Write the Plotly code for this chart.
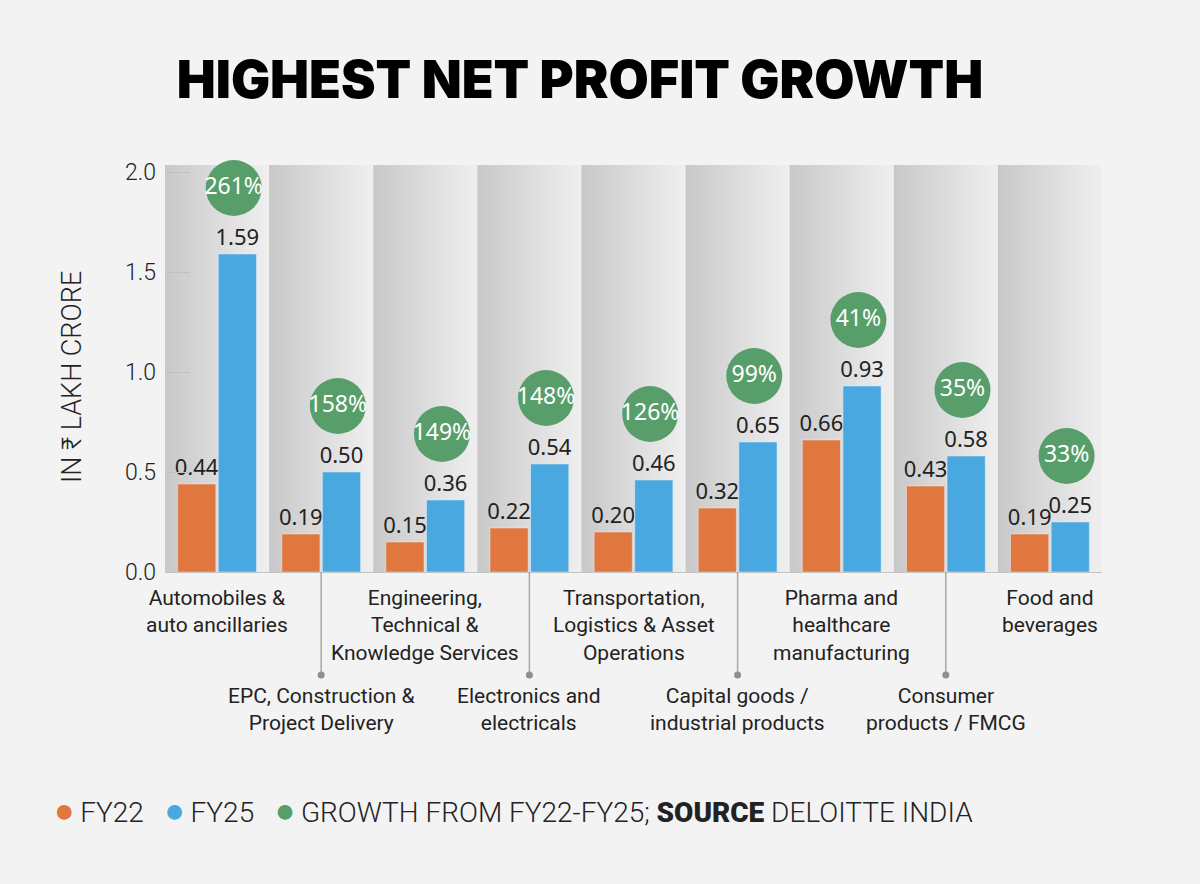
import plotly.graph_objects as go

# data
categories = [
    "Automobiles &<br>auto ancillaries",
    "EPC, Construction &<br>Project Delivery",
    "Engineering,<br>Technical &<br>Knowledge Services",
    "Electronics and<br>electricals",
    "Transportation,<br>Logistics & Asset<br>Operations",
    "Capital goods /<br>industrial products",
    "Pharma and<br>healthcare<br>manufacturing",
    "Consumer<br>products / FMCG",
    "Food and<br>beverages",
]
fy22 = [0.44, 0.19, 0.15, 0.22, 0.20, 0.32, 0.66, 0.43, 0.19]
fy25 = [1.59, 0.50, 0.36, 0.54, 0.46, 0.65, 0.93, 0.58, 0.25]
growth = ["261%", "158%", "149%", "148%", "126%", "99%", "41%", "35%", "33%"]
y_ticks = [0, 0.5, 1.0, 1.5, 2.0]
y_ticktext = ["0.0", "0.5", "1.0", "1.5", "2.0"]

ORANGE = "#e0773f"
BLUE = "#4aa8e0"
GREEN = "#589e6a"
BG = "#f3f3f3"
TXT = "#222222"
FONT = "Roboto, sans-serif"

# plot box in pixels (used to place annotations)
W, H = 1200, 884
L, R, T, B = 165, 1102, 165, 572
YTOP = 2.035
n = len(fy22)
xs = list(range(n))


def px_x(p):
    return (p - L) / (R - L)


def px_y(p):
    return (B - p) / (B - T)


fig = go.Figure()

# gradient column backgrounds on the base axes
for i in xs:
    fig.add_trace(go.Scatter(
        x=[i - 0.5, i + 0.5, i + 0.5, i - 0.5, i - 0.5],
        y=[0, 0, YTOP, YTOP, 0],
        mode="none", fill="toself",
        fillgradient=dict(type="horizontal", start=i - 0.5, stop=i + 0.5,
                          colorscale=[[0, "#c8c8c8"], [0.5, "#dcdcdc"], [1, "#efefef"]]),
        hoverinfo="skip", showlegend=False,
        xaxis="x", yaxis="y"))

for vals, name, col in [(fy22, "FY22", ORANGE), (fy25, "FY25", BLUE)]:
    fig.add_trace(go.Bar(x=xs, y=vals, name=name, marker_color=col,
                         text=[f"{v:.2f}" for v in vals], textposition="outside",
                         textfont=dict(family="Noto Sans", size=22, color=TXT),
                         constraintext="none", cliponaxis=False,
                         xaxis="x2", yaxis="y2"))

# growth bubbles sit a little above the FY25 bar
fig.add_trace(go.Scatter(
    x=[i + 0.16 for i in xs], y=[v + 0.33 for v in fy25],
    mode="markers+text", text=growth, textposition="middle center",
    marker=dict(size=56, color=GREEN, line_width=0),
    textfont=dict(family="Noto Sans", size=23, color="white"),
    cliponaxis=False, hoverinfo="skip", showlegend=False,
    xaxis="x2", yaxis="y2"))

shapes = []
annotations = []
for i, cat in enumerate(categories):
    if i % 2 == 0:
        top = 584
    else:
        top = 682
        # leader line + dot for the lower row labels
        shapes.append(dict(type="line", xref="x", yref="paper",
                           x0=i, x1=i, y0=0, y1=px_y(675),
                           line=dict(color="#a8a8a8", width=1.5)))
        shapes.append(dict(type="circle", xref="x", yref="paper",
                           xsizemode="pixel", ysizemode="pixel",
                           xanchor=i, yanchor=px_y(675),
                           x0=-3.5, x1=3.5, y0=-3.5, y1=3.5,
                           fillcolor="#8f8f8f", line_width=0))
    annotations.append(dict(text=cat, x=i, xref="x", y=px_y(top), yref="paper",
                            xanchor="center", yanchor="top", showarrow=False,
                            font=dict(family=FONT, size=21, color=TXT)))

annotations.append(dict(text="IN ₹ LAKH CRORE", textangle=-90,
                        x=px_x(72), y=px_y(377), xref="paper", yref="paper",
                        xanchor="center", yanchor="middle", showarrow=False,
                        font=dict(family=FONT, size=27, color=TXT, weight=300)))

sp = "\u00a0" * 3
dot = '<span style="color:{};font-size:34px">●</span>'
legend_text = (dot.format(ORANGE) + f"\u2009FY22{sp}"
               + dot.format(BLUE) + f"\u2009FY25{sp}"
               + dot.format(GREEN) + "\u2009GROWTH FROM FY22-FY25; "
               + '<span style="font-weight:900">SOURCE</span> DELOITTE INDIA')
annotations.append(dict(text=legend_text, x=px_x(52), y=px_y(810),
                        xref="paper", yref="paper", xanchor="left", yanchor="middle",
                        showarrow=False,
                        font=dict(family=FONT, size=28, color=TXT, weight=300)))

fig.update_layout(
    width=W, height=H,
    margin=dict(l=L, r=W - R, t=T, b=H - B, pad=0),
    paper_bgcolor=BG, plot_bgcolor=BG,
    title=dict(text="HIGHEST NET PROFIT GROWTH", x=580 / W, xanchor="center",
               y=1 - 80 / H, yanchor="middle",
               font=dict(family="Inter, Roboto", size=52, color="black", weight=900)),
    barmode="group", bargap=0.22, bargroupgap=0.06,
    showlegend=False,
    shapes=shapes, annotations=annotations,
    xaxis=dict(range=[-0.5, n - 0.5], showticklabels=False, ticks="",
               showgrid=False, zeroline=False, showline=True, linecolor="#c4c4c4"),
    yaxis=dict(range=[0, YTOP], tickvals=y_ticks, ticktext=y_ticktext,
               ticks="inside", ticklen=25, tickcolor="#c0c0c0", tickwidth=1,
               ticklabelstandoff=8,
               tickfont=dict(family=FONT, size=23, color=TXT, weight=300),
               showgrid=False, zeroline=False, showline=False),
    xaxis2=dict(overlaying="x", range=[-0.5, n - 0.5], visible=False),
    yaxis2=dict(overlaying="y", range=[0, YTOP], visible=False),
)

# drop the default 8px page margin so the figure fills the window
fig.write_html("out.html", config={"displayModeBar": False},
               post_script="document.body.style.margin='0';"
                           "document.body.style.background='#f3f3f3';")
